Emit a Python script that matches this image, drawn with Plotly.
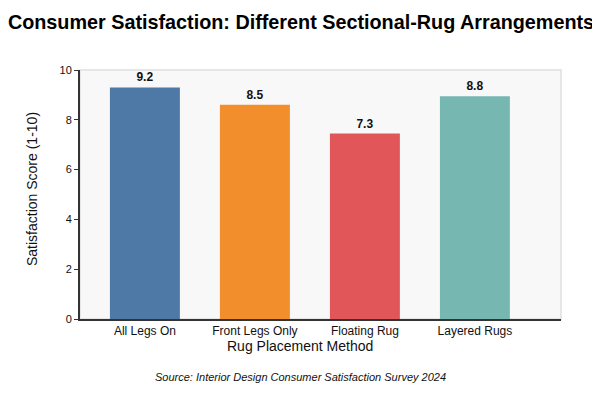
import plotly.graph_objects as go

categories = ["All Legs On", "Front Legs Only", "Floating Rug", "Layered Rugs"]
scores = [9.3, 8.6, 7.45, 8.95]
score_labels = ["9.2", "8.5", "7.3", "8.8"]
colors = ["#4e79a7", "#f28e2b", "#e15759", "#76b7b2"]
y_ticks = [0, 2, 4, 6, 8, 10]

fig = go.Figure()
fig.add_trace(go.Bar(
    x=categories, y=scores, text=score_labels, textposition="outside",
    textfont=dict(family="Arial", size=12, color="#111111"),
    texttemplate="<b>%{text}</b>",
    marker=dict(color=colors, line=dict(width=0)),
    cliponaxis=False, showlegend=False,
))

fig.update_layout(
    width=600, height=400,
    margin=dict(l=72, r=47, t=62, b=89),
    paper_bgcolor="white", plot_bgcolor="#f8f8f8",
    bargap=0.364,
    font=dict(family="Arial", color="#111111"),
    title=dict(text="<b>Consumer Satisfaction: Different Sectional-Rug Arrangements</b>",
               x=0.4883, xanchor="center", y=0.965, yanchor="middle",
               font=dict(family="Arial", size=19.8, color="#000000")),
    xaxis=dict(range=[-0.59, 3.7827], showline=True, linecolor="#333333", linewidth=2,
               ticks="", showgrid=False, zeroline=False,
               tickfont=dict(family="Arial", size=12, color="#111111")),
    yaxis=dict(range=[0, 10], tickvals=y_ticks, showline=True, linecolor="#333333", linewidth=2,
               ticks="outside", ticklen=4, tickcolor="#333333", showgrid=False, zeroline=False,
               tickfont=dict(family="Arial", size=11, color="#111111")),
    shapes=[dict(type="rect", xref="paper", yref="paper", x0=0, x1=1, y0=0, y1=1,
                 line=dict(color="#e6e6e6", width=2), layer="below")],
    annotations=[
        dict(text="Rug Placement Method", xref="paper", yref="paper", x=0.4574, y=-0.1084,
             xanchor="center", yanchor="middle", showarrow=False,
             font=dict(family="Arial", size=14, color="#111111")),
        dict(text="Satisfaction Score (1-10)", xref="paper", yref="paper", x=-0.0998, y=0.522,
             xanchor="center", yanchor="middle", showarrow=False, textangle=-90,
             font=dict(family="Arial", size=14, color="#111111")),
        dict(text="<i>Source: Interior Design Consumer Satisfaction Survey 2024</i>",
             xref="paper", yref="paper", x=0.4584, y=-0.233, xanchor="center", yanchor="middle",
             showarrow=False, font=dict(family="Arial", size=11, color="#111111")),
    ],
)

fig.write_html("out.html")
